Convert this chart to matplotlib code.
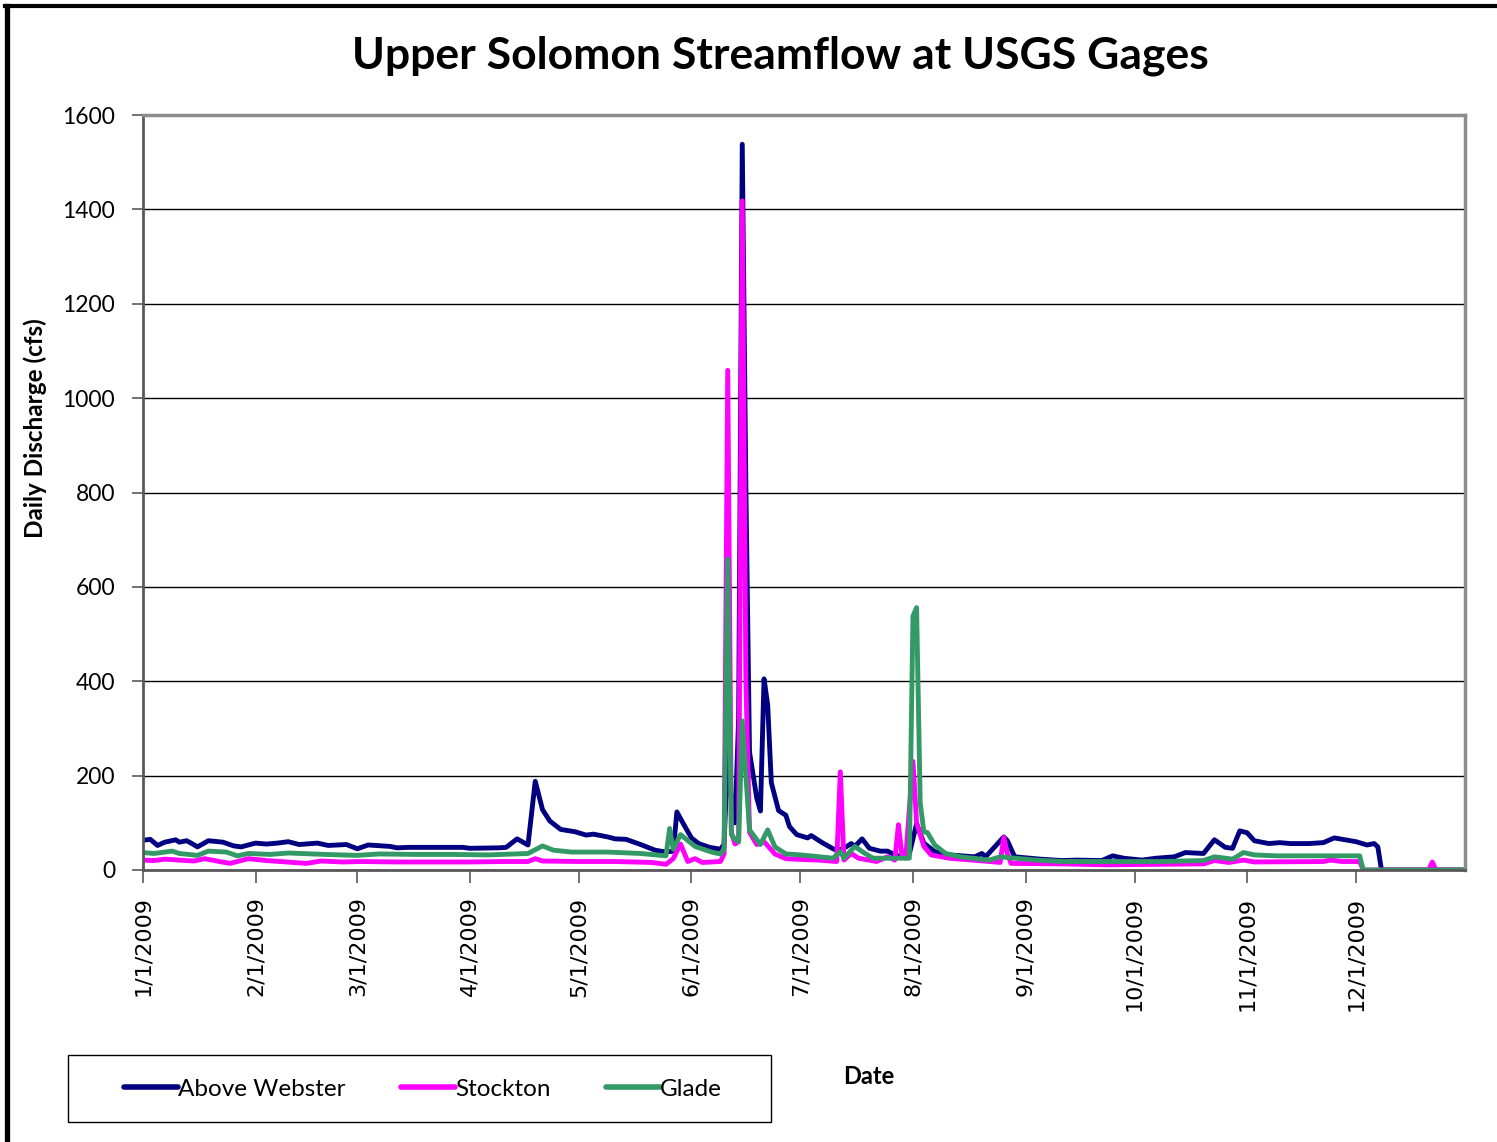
import matplotlib
matplotlib.use("Agg")
import matplotlib.pyplot as plt
from matplotlib.lines import Line2D
from matplotlib.patches import Rectangle
import pandas as pd

# day of year (0 = Jan 1 2009) and daily discharge (cfs)
webster_days = [0, 2, 4, 6, 9, 10, 12, 13, 15, 18, 22, 25, 27, 31, 34, 37, 40, 43, 48,
                51, 56, 59, 62, 68, 70, 73, 81, 88, 90, 98, 100, 103, 106, 108, 110,
                112, 115, 119, 122, 124, 128, 130, 133, 137, 141, 144, 146, 147, 149,
                151, 153, 156, 159, 160, 161, 162, 163, 164, 165, 166, 167, 169, 170,
                171, 172, 173, 175, 177, 178, 180, 183, 184, 187, 190, 191, 193, 195,
                196, 198, 200, 203, 205, 207, 209, 211, 213, 215, 218, 222, 229, 231,
                232, 237, 238, 240, 247, 253, 257, 264, 267, 270, 275, 279, 284, 287,
                292, 295, 298, 300, 302, 304, 306, 310, 313, 316, 321, 325, 328, 331,
                334, 337, 339, 340, 341, 364]
webster_cfs = [63, 65, 52, 59, 64, 59, 62, 58, 49, 62, 59, 51, 49, 57, 55, 57, 60, 54, 57,
               52, 54, 45, 53, 50, 47, 48, 48, 48, 46, 47, 48, 66, 53, 188, 128,
               104, 86, 81, 74, 76, 70, 66, 65, 54, 42, 38, 40, 123, 95,
               68, 56, 48, 44, 55, 250, 150, 100, 320, 1538, 810, 250, 152, 125,
               405, 350, 185, 126, 116, 92, 75, 68, 73, 58, 45, 42, 46, 56,
               50, 66, 46, 40, 40, 32, 28, 34, 98, 57, 39, 32, 28, 35,
               28, 70, 62, 28, 23, 20, 21, 20, 30, 25, 21, 25, 28, 37,
               35, 64, 48, 46, 83, 79, 62, 56, 58, 56, 56, 58, 68, 64,
               60, 53, 56, 49, 0, 0]

stockton_days = [0, 3, 6, 14, 17, 21, 24, 29, 34, 45, 49, 55, 60, 70, 80, 90, 100, 106,
                 108, 110, 120, 130, 140, 144, 146, 148, 150, 152, 154, 159, 160, 161,
                 162, 163, 164, 165, 166, 167, 169, 171, 174, 177, 182, 186, 191, 192,
                 193, 195, 197, 202, 205, 207, 208, 209, 210, 212, 213, 215, 217, 222,
                 230, 236, 237, 238, 239, 253, 265, 292, 295, 299, 303, 306, 325, 327,
                 330, 335, 336, 354, 355, 356, 364]
stockton_cfs = [21, 20, 23, 19, 24, 18, 14, 24, 20, 14, 19, 17, 18, 17, 17, 17, 18, 18,
                24, 19, 18, 18, 16, 12, 24, 55, 18, 24, 16, 18, 34, 1059,
                80, 55, 60, 1418, 400, 80, 54, 60, 34, 24, 22, 21, 18, 208,
                21, 35, 25, 18, 28, 21, 96, 28, 25, 230, 100, 50, 32, 25,
                20, 16, 69, 35, 14, 13, 11, 13, 20, 16, 21, 17, 18, 21,
                18, 18, 0, 0, 17, 0, 0]

glade_days = [0, 3, 8, 10, 15, 18, 23, 26, 29, 35, 40, 50, 59, 65, 75, 85, 95, 106, 110,
              113, 118, 128, 137, 144, 145, 146, 148, 152, 155, 157, 159, 160, 161, 162,
              163, 164, 165, 166, 167, 170, 172, 174, 177, 181, 185, 190, 192, 193, 196,
              198, 201, 209, 211, 212, 213, 214, 215, 216, 218, 221, 225, 233, 236, 240,
              246, 253, 266, 280, 292, 295, 300, 303, 306, 312, 335, 336, 364]
glade_cfs = [37, 35, 40, 35, 31, 40, 38, 30, 35, 33, 36, 33, 31, 34, 33, 33, 32, 35, 51,
             42, 38, 38, 35, 30, 88, 44, 75, 50, 42, 37, 34, 45, 659, 75,
             65, 60, 316, 200, 85, 54, 85, 49, 34, 32, 29, 25, 39, 25, 50,
             39, 25, 25, 25, 538, 556, 142, 81, 79, 53, 35, 28, 21, 28, 25,
             21, 18, 18, 18, 20, 28, 23, 37, 32, 30, 30, 0, 0]

series = [
    ("Above Webster", webster_days, webster_cfs, "#000080"),
    ("Stockton", stockton_days, stockton_cfs, "#FF00FF"),
    ("Glade", glade_days, glade_cfs, "#339966"),
]

start = pd.Timestamp("2009-01-01")
month_ticks = pd.date_range("2009-01-01", "2009-12-01", freq="MS")
tick_labels = [f"{d.month}/1/2009" for d in month_ticks]

W, H = 1497, 1142
fig = plt.figure(figsize=(W / 100, H / 100), dpi=100)
ax = fig.add_axes([143 / W, 1 - 870 / H, (1465 - 143) / W, (870 - 115) / H])

for name, days, cfs, color in series:
    dates = start + pd.to_timedelta(days, unit="D")
    ax.plot(dates, cfs, color=color, linewidth=3.5, label=name,
            solid_joinstyle="round", solid_capstyle="round")

ax.set_xlim(start, pd.Timestamp("2009-12-31"))
ax.set_ylim(0, 1600)
ax.set_yticks(range(0, 1601, 200))
ax.set_yticklabels([str(v) for v in range(0, 1601, 200)], fontfamily="Lato", fontsize=16.5)
ax.set_xticks(month_ticks)
ax.set_xticklabels(tick_labels, rotation=90, fontfamily="DejaVu Sans", fontsize=16)
ax.tick_params(axis="y", length=8, width=1.2, pad=12, color="#595959")
ax.tick_params(axis="x", length=9, width=1.2, pad=10, color="#595959")

ax.grid(axis="y", color="black", linewidth=1)
ax.set_axisbelow(True)
for side in ["left", "bottom"]:
    ax.spines[side].set_color("#595959")
    ax.spines[side].set_linewidth(2)
for side in ["top", "right"]:
    ax.spines[side].set_color("#8c8c8c")
    ax.spines[side].set_linewidth(2.5)

fig.text(780 / W, 1 - 56 / H, "Upper Solomon Streamflow at USGS Gages",
         ha="center", va="center", fontfamily="Lato", fontweight="bold", fontsize=32)
fig.text(35 / W, 1 - 428 / H, "Daily Discharge (cfs)", rotation=90,
         ha="center", va="center", fontfamily="Lato", fontweight="bold", fontsize=17.5)
fig.text(869 / W, 1 - 1077 / H, "Date", ha="center", va="center",
         fontfamily="Lato", fontweight="bold", fontsize=17)

leg = fig.legend(loc="center", bbox_to_anchor=(423 / W, 1 - 1089 / H), ncol=3,
                 frameon=False, handlelength=2.2, handletextpad=0.0,
                 columnspacing=2.3, prop={"family": "Lato", "size": 17.5})
for h in leg.get_lines():
    h.set_linewidth(4)

# legend box
fig.add_artist(Rectangle((68 / W, 1 - 1122 / H), (771 - 68) / W, (1122 - 1055) / H,
                         transform=fig.transFigure, fill=False, edgecolor="black",
                         linewidth=1))

# outer chart frame (left and top edges visible)
fig.add_artist(Line2D([6.5 / W, 6.5 / W], [0, 1 - 6 / H], transform=fig.transFigure,
                      color="black", linewidth=3.8))
fig.add_artist(Line2D([4.5 / W, 1], [1 - 6 / H, 1 - 6 / H], transform=fig.transFigure,
                      color="black", linewidth=3))

fig.savefig("out.png", dpi=100)
